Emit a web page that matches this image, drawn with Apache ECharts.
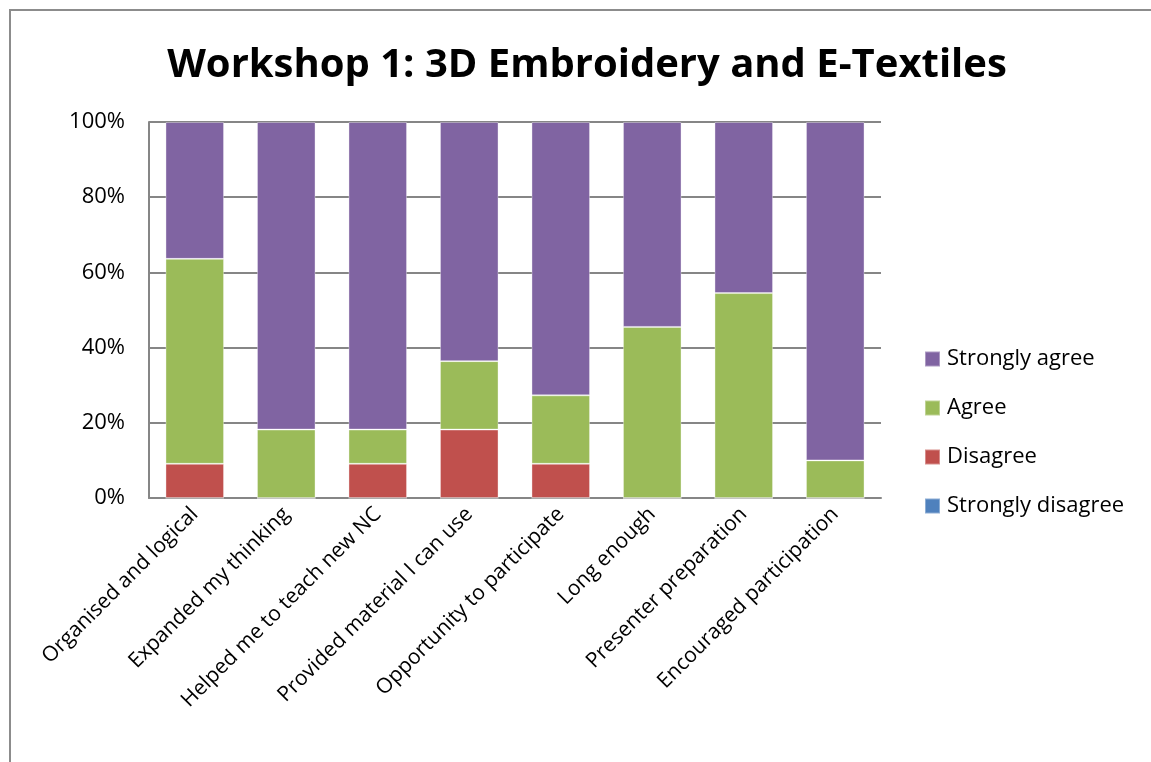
<!DOCTYPE html>
<html>
<head>
<meta charset="utf-8">
<script src="https://cdn.jsdelivr.net/npm/echarts@6/dist/echarts.min.js"></script>
<style>
  html, body { margin: 0; padding: 0; background: #fff; }
  #chart { width: 1151px; height: 762px; }
</style>
</head>
<body>
<div id="chart"></div>
<script>
var categories = [
  'Organised and logical',
  'Expanded my thinking',
  'Helped me to teach new NC',
  'Provided material I can use',
  'Opportunity to participate',
  'Long enough',
  'Presenter preparation',
  'Encouraged participation'
]
// percentages per category
var stronglyDisagree = [0, 0, 0, 0, 0, 0, 0, 0]
var disagree = [9.1, 0, 9.1, 18.2, 9.1, 0, 0, 0]
var agree = [54.5, 18.2, 9.1, 18.2, 18.2, 45.5, 54.5, 10]
var stronglyAgree = [36.4, 81.8, 81.8, 63.6, 72.7, 54.5, 45.5, 90]
var yTicks = [0, 20, 40, 60, 80, 100]

var font = 'Open Sans'
var chart = echarts.init(document.getElementById('chart'))

function bar(name, data, color) {
  return {
    name: name,
    type: 'bar',
    stack: 'total',
    data: data,
    barWidth: '64%',
    itemStyle: { color: color, borderColor: 'rgba(255,255,255,0.35)', borderWidth: 1 }
  }
}

var option = {
  animation: false,
  title: {
    text: 'Workshop 1: 3D Embroidery and E-Textiles',
    left: 582,
    textAlign: 'center',
    top: 41,
    textStyle: { fontFamily: font, fontSize: 40, fontWeight: 'bold', color: '#000' }
  },
  graphic: [{
    type: 'rect',
    shape: { x: 10, y: 10, width: 1300, height: 900 },
    style: { fill: null, stroke: '#8c8c8c', lineWidth: 2 },
    silent: true
  }],
  legend: {
    orient: 'vertical',
    left: 919,
    top: 343,
    itemWidth: 15,
    itemHeight: 15,
    itemGap: 27,
    icon: 'rect',
    data: ['Strongly agree', 'Agree', 'Disagree', 'Strongly disagree'],
    textStyle: { fontFamily: font, fontSize: 22, color: '#000', padding: [0, 0, 0, 2] }
  },
  grid: { left: 149, right: 270, top: 122, bottom: 264 },
  xAxis: {
    type: 'category',
    data: categories,
    axisLine: { lineStyle: { color: '#868686', width: 2 } },
    axisTick: { show: false },
    axisLabel: { rotate: 45, interval: 0, margin: 13, fontFamily: font, fontSize: 21, color: '#000' }
  },
  yAxis: {
    type: 'value',
    min: 0,
    max: 100,
    interval: 20,
    axisLine: { show: true, lineStyle: { color: '#868686', width: 2 } },
    axisTick: { show: false },
    splitLine: { lineStyle: { color: '#868686', width: 2 } },
    axisLabel: {
      margin: 24,
      fontFamily: font,
      fontSize: 22,
      color: '#000',
      formatter: function (v) { return yTicks.indexOf(v) >= 0 ? v + '%' : '' }
    }
  },
  series: [
    bar('Strongly disagree', stronglyDisagree, '#4F81BD'),
    bar('Disagree', disagree, '#C0504D'),
    bar('Agree', agree, '#9BBB59'),
    bar('Strongly agree', stronglyAgree, '#8064A2')
  ]
}
chart.setOption(option)
</script>
</body>
</html>
